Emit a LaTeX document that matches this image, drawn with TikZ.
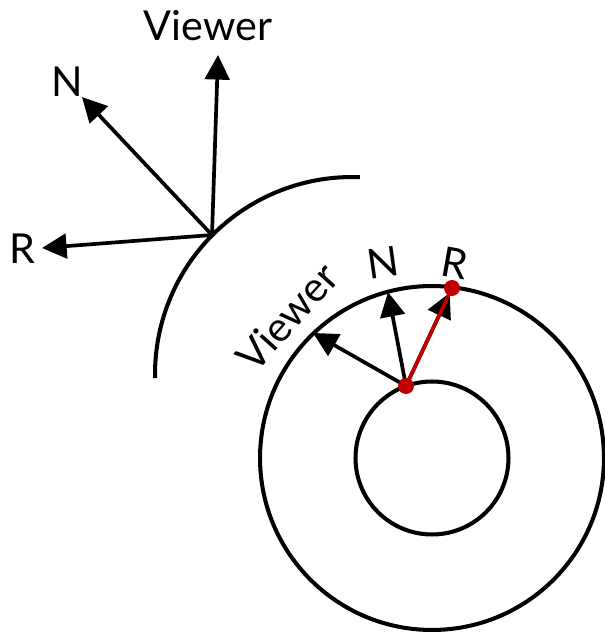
\documentclass[tikz,border=0pt]{standalone}
\usepackage{fontspec}
\setmainfont{Lato}
\usetikzlibrary{arrows.meta,calc}
\definecolor{hitred}{RGB}{192,0,0}

\begin{document}
\begin{tikzpicture}[
  x=0.02cm, y=0.02cm,
  lbl/.style={font=\fontsize{23.5}{28}\selectfont, inner sep=0pt},
  arr/.style={-{Triangle[length=14pt, width=14pt]}, line width=2.1pt},
  ring/.style={line width=2.3pt},
  ray/.style={draw=hitred, line width=2pt},
  hit/.style={circle, fill=hitred, inner sep=0pt, minimum size=0.32cm}
]
\useasboundingbox (0,0) rectangle (605,633);

% convex surface, reflection at one point
\coordinate (surf) at (352,259);
\coordinate (p) at (212,398);
\draw[ring] (surf) ++(87.7:3.94cm) arc[start angle=87.7, end angle=181.2, radius=3.94cm];

\node[lbl] (viewA) at (208,607) {Viewer};
\node[lbl] (nA) at (67,551) {N};
\node[lbl] (rA) at (22,384) {R};

\coordinate (viewAtip) at (218,578);
\coordinate (nAtip) at (82,536);
\coordinate (rAtip) at (42,385);
\draw[arr] (p) -- (viewAtip);
\draw[arr] (p) -- (nAtip);
\draw[arr] (p) -- (rAtip);

% ring: ray from inner to outer wall
\coordinate (ctr) at (432,175);
\draw[ring] (ctr) circle[radius=3.44cm];
\draw[ring] (ctr) circle[radius=1.53cm];

\coordinate (q) at (406,247);
\coordinate (s) at (452,345);

\node[lbl, rotate=48] (viewB) at (287,316) {Viewer};
\node[lbl, rotate=8] (nB) at (383,370) {N};
\node[lbl, rotate=-10] (rB) at (455,370) {R};

\coordinate (viewBtip) at (313,300);
\coordinate (nBtip) at (388,341);
\coordinate (rBtip) at ($(q)!0.95!(s)$);
\draw[arr] (q) -- (viewBtip);
\draw[arr] (q) -- (nBtip);
\draw[arr] (q) -- (rBtip);
\draw[ray] (q) -- (s);
\node[hit] (qdot) at (q) {};
\node[hit] (sdot) at (s) {};
\end{tikzpicture}
\end{document}
